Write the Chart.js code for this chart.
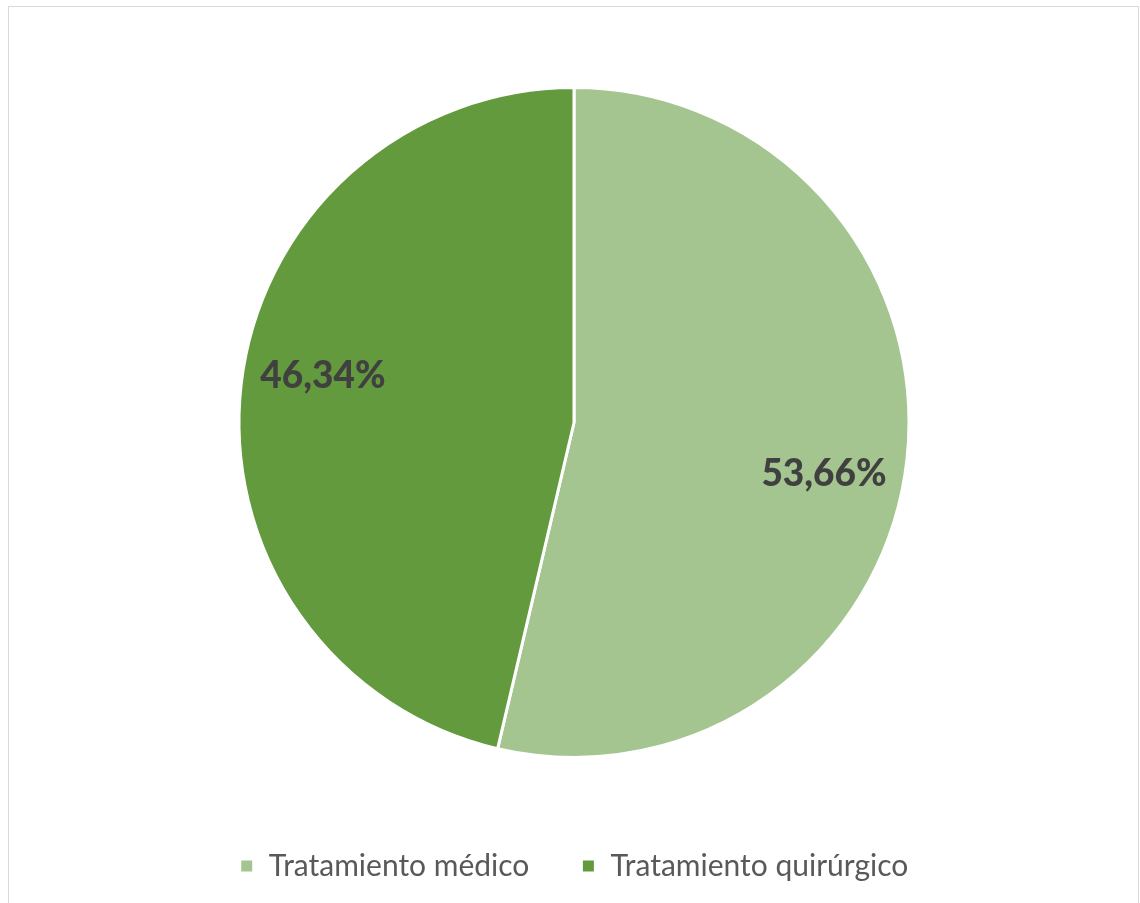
<!DOCTYPE html>
<html>
<head>
<meta charset="utf-8">
<script src="https://cdn.jsdelivr.net/npm/chart.js@4.4.1/dist/chart.umd.min.js"></script>
<style>
	body { margin: 0; background: #ffffff; }
	#marco { position: absolute; left: 8px; top: 6px; width: 1131px; height: 920px; border: 1px solid #d9d9d9; box-sizing: border-box; }
	#wrap { position: absolute; left: 0; top: 0; width: 1140px; height: 903px; }
</style>
</head>
<body>
<div id="marco"></div>
<div id="wrap"><canvas id="tratamiento"></canvas></div>
<script>
var categorias = ['Tratamiento médico', 'Tratamiento quirúrgico'];
var porcentajes = [53.66, 46.34];
var etiquetas = ['53,66%', '46,34%'];
var colores = ['#A5C590', '#639A3E'];

// etiquetas de porcentaje dentro de cada sector
var etiquetasPlugin = {
	id: 'etiquetasPie',
	afterDatasetsDraw: function(chart, args, opts) {
		var ctx = chart.ctx;
		var meta = chart.getDatasetMeta(0);
		ctx.save();
		ctx.font = '900 37px Lato';
		ctx.fillStyle = '#404040';
		ctx.textAlign = 'center';
		ctx.textBaseline = 'middle';
		meta.data.forEach(function(arc, i) {
			var p = arc.getProps(['x', 'y', 'startAngle', 'endAngle', 'outerRadius'], true);
			var ang = (p.startAngle + p.endAngle) / 2 + opts.giro[i] * Math.PI / 180;
			var r = p.outerRadius * opts.distancia;
			ctx.fillText(etiquetas[i], p.x + r * Math.cos(ang), p.y + r * Math.sin(ang));
		});
		ctx.restore();
	}
};

var ctx = document.getElementById('tratamiento');

var grafica = new Chart(ctx, {
	type: 'pie',
	data: {
		labels: categorias,
		datasets: [
			{
				data: porcentajes,
				backgroundColor: colores,
				borderColor: '#ffffff',
				borderWidth: 3,
				radius: 335
			}
		]
	},
	options: {
		responsive: true,
		maintainAspectRatio: false,
		animation: false,
		layout: { padding: { top: 46, bottom: 12, left: 8, right: 0 } },
		plugins: {
			tooltip: { enabled: false },
			etiquetasPie: { distancia: 0.762, giro: [5.1, 3.8] },
			legend: {
				position: 'bottom',
				labels: {
					boxWidth: 14,
					boxHeight: 14,
					padding: 52,
					color: '#595959',
					font: { family: 'Lato', size: 30 }
				}
			}
		}
	},
	plugins: [etiquetasPlugin]
});
</script>
</body>
</html>
